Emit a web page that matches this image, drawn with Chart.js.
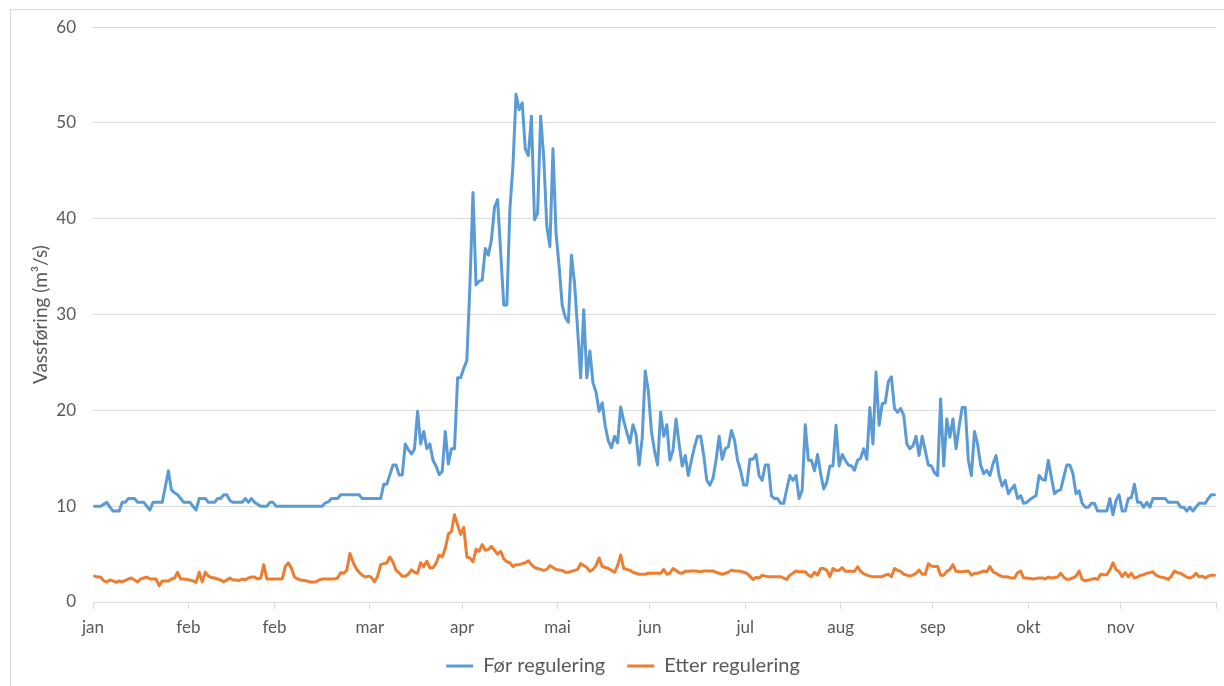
<!DOCTYPE html>
<html>
<head>
<meta charset="utf-8">
<script src="https://cdn.jsdelivr.net/npm/chart.js@4.4.1/dist/chart.umd.min.js"></script>
<style>
  html, body { margin: 0; padding: 0; background: #ffffff; }
  #wrap { position: relative; width: 1224px; height: 686px; overflow: hidden; }
  #frame { position: absolute; left: 10px; top: 9px; width: 1300px; height: 800px; border: 1px solid #d9d9d9; box-sizing: border-box; }
  canvas { position: absolute; left: 0; top: 0; }
</style>
</head>
<body>
<div id="wrap">
  <div id="frame"></div>
  <canvas id="c" width="1224" height="686"></canvas>
</div>
<script>
// Month boundaries (day of year) where the axis tick marks sit, and the labels printed there
const monthTickDays = [0, 31, 59, 90, 120, 151, 181, 212, 243, 273, 304, 334, 365];
const monthTickLabels = ['jan', 'feb', 'feb', 'mar', 'apr', 'mai', 'jun', 'jul', 'aug', 'sep', 'okt', 'nov', ''];

// Daily discharge (m3/s), 365 days
const forRegulering = [
  10.0, 10.0, 10.0, 10.2, 10.4, 9.9, 9.5, 9.5, 9.5, 10.4,
  10.4, 10.8, 10.8, 10.8, 10.4, 10.4, 10.4, 10.0, 9.6, 10.4,
  10.4, 10.4, 10.4, 12.0, 13.7, 11.7, 11.4, 11.2, 10.8, 10.4,
  10.4, 10.4, 10.0, 9.6, 10.8, 10.8, 10.8, 10.4, 10.4, 10.4,
  10.8, 10.8, 11.2, 11.2, 10.6, 10.4, 10.4, 10.4, 10.4, 10.8,
  10.4, 10.8, 10.4, 10.2, 10.0, 10.0, 10.0, 10.4, 10.4, 10.0,
  10.0, 10.0, 10.0, 10.0, 10.0, 10.0, 10.0, 10.0, 10.0, 10.0,
  10.0, 10.0, 10.0, 10.0, 10.0, 10.35, 10.45, 10.8, 10.8, 10.8,
  11.2, 11.2, 11.2, 11.2, 11.2, 11.2, 11.2, 10.8, 10.8, 10.8,
  10.8, 10.8, 10.8, 10.8, 12.3, 12.3, 13.3, 14.3, 14.3, 13.25,
  13.25, 16.5, 15.9, 15.45, 16.0, 19.9, 16.5, 17.8, 16.0, 16.5,
  14.8, 14.2, 13.3, 13.6, 17.8, 14.4, 16.0, 16.0, 23.4, 23.4,
  24.4, 25.2, 33.0, 42.75, 33.1, 33.5, 33.6, 36.9, 36.2, 37.8,
  41.2, 42.0, 36.5, 31.0, 31.0, 41.0, 45.6, 53.0, 51.4, 52.1,
  47.3, 46.6, 50.7, 39.9, 40.6, 50.7, 46.4, 39.2, 37.1, 47.3,
  38.5, 35.0, 31.0, 29.7, 29.2, 36.2, 33.3, 28.5, 23.4, 30.5,
  23.4, 26.2, 22.9, 21.9, 19.9, 20.8, 18.35, 16.8, 16.1, 17.3,
  16.6, 20.35, 18.9, 17.7, 16.6, 18.5, 17.5, 14.3, 17.1, 24.1,
  22.0, 17.8, 15.8, 14.3, 19.8, 17.3, 18.5, 14.8, 15.8, 19.1,
  16.5, 14.2, 15.3, 13.2, 14.8, 16.2, 17.3, 17.3, 15.3, 12.7,
  12.2, 12.9, 14.8, 17.3, 14.9, 16.0, 16.2, 17.9, 16.9, 14.8,
  13.7, 12.2, 12.2, 14.9, 14.9, 15.4, 13.2, 12.7, 14.3, 14.3,
  11.1, 10.8, 10.8, 10.3, 10.3, 11.8, 13.2, 12.7, 13.2, 10.8,
  11.7, 18.5, 14.8, 14.8, 13.7, 15.4, 13.4, 11.8, 12.5, 14.2,
  14.2, 18.45, 14.2, 15.4, 14.8, 14.3, 14.2, 13.75, 14.8, 15.0,
  16.0, 14.9, 20.3, 16.5, 24.0, 18.45, 20.7, 20.8, 23.0, 23.5,
  20.2, 19.8, 20.2, 19.5, 16.5, 16.0, 16.3, 17.3, 15.3, 17.3,
  15.8, 14.3, 14.2, 13.5, 13.2, 21.2, 14.2, 19.1, 17.2, 19.1,
  16.0, 18.3, 20.3, 20.3, 14.8, 13.2, 17.8, 16.5, 14.3, 13.4,
  13.75, 13.2, 14.4, 15.3, 13.2, 12.1, 12.7, 11.3, 11.8, 12.2,
  10.8, 11.1, 10.3, 10.4, 10.7, 10.9, 11.1, 13.2, 12.8, 12.7,
  14.8, 13.0, 11.3, 11.6, 11.7, 13.0, 14.3, 14.3, 13.4, 11.3,
  11.6, 10.3, 9.9, 9.9, 10.3, 10.3, 9.5, 9.5, 9.5, 9.5,
  10.8, 9.1, 10.6, 11.2, 9.5, 9.5, 10.8, 10.9, 12.3, 10.4,
  10.4, 9.9, 10.4, 9.9, 10.8, 10.8, 10.8, 10.8, 10.8, 10.4,
  10.4, 10.4, 10.4, 9.9, 9.9, 9.5, 9.9, 9.5, 9.9, 10.3,
  10.3, 10.3, 10.8, 11.2, 11.2
];

const etterRegulering = [
  2.7, 2.6, 2.6, 2.2, 2.1, 2.3, 2.2, 2.05, 2.2, 2.1,
  2.25, 2.4, 2.5, 2.3, 2.1, 2.4, 2.5, 2.6, 2.4, 2.4,
  2.4, 1.7, 2.2, 2.2, 2.2, 2.4, 2.5, 3.1, 2.4, 2.4,
  2.35, 2.3, 2.2, 2.05, 3.1, 2.1, 3.1, 2.7, 2.55, 2.5,
  2.4, 2.3, 2.1, 2.3, 2.5, 2.3, 2.3, 2.25, 2.4, 2.3,
  2.5, 2.6, 2.6, 2.4, 2.5, 3.9, 2.4, 2.4, 2.4, 2.4,
  2.4, 2.4, 3.7, 4.1, 3.5, 2.6, 2.4, 2.3, 2.25, 2.2,
  2.1, 2.1, 2.1, 2.3, 2.4, 2.4, 2.4, 2.4, 2.4, 2.5,
  3.06, 3.0, 3.33, 5.07, 4.2, 3.5, 3.1, 2.8, 2.6, 2.7,
  2.57, 2.1, 2.7, 3.9, 4.0, 4.1, 4.7, 4.15, 3.3, 3.05,
  2.7, 2.7, 2.9, 3.35, 3.1, 3.0, 4.1, 3.7, 4.25, 3.55,
  3.6, 4.05, 4.9, 4.7, 5.6, 7.1, 7.35, 9.1, 8.05, 7.05,
  7.8, 4.7, 4.6, 4.2, 5.5, 5.3, 6.0, 5.4, 5.5, 5.8,
  5.4, 5.0, 5.3, 4.5, 4.2, 4.1, 3.7, 3.9, 3.9, 4.0,
  4.1, 4.3, 3.9, 3.6, 3.5, 3.4, 3.3, 3.4, 3.8, 3.6,
  3.4, 3.35, 3.3, 3.1, 3.1, 3.2, 3.3, 3.4, 4.0, 3.8,
  3.6, 3.2, 3.4, 3.8, 4.6, 3.7, 3.6, 3.5, 3.3, 3.1,
  3.8, 4.9, 3.5, 3.4, 3.3, 3.1, 3.0, 2.9, 2.9, 2.9,
  3.0, 3.0, 3.0, 3.0, 3.0, 3.4, 2.9, 3.0, 3.5, 3.3,
  3.05, 3.0, 3.2, 3.2, 3.24, 3.24, 3.2, 3.15, 3.24, 3.24,
  3.24, 3.24, 3.1, 3.0, 2.9, 3.0, 3.1, 3.33, 3.24, 3.24,
  3.2, 3.1, 3.0, 2.7, 2.36, 2.57, 2.5, 2.8, 2.7, 2.64,
  2.64, 2.64, 2.64, 2.64, 2.5, 2.36, 2.8, 3.0, 3.24, 3.15,
  3.15, 3.15, 2.8, 2.64, 3.1, 2.8, 3.5, 3.5, 3.3, 2.64,
  3.5, 3.3, 3.3, 3.6, 3.2, 3.2, 3.2, 3.2, 3.68, 3.2,
  2.95, 2.8, 2.7, 2.64, 2.64, 2.64, 2.64, 2.8, 2.9, 2.64,
  3.5, 3.3, 3.2, 2.9, 2.8, 2.7, 2.8, 3.0, 3.33, 2.9,
  2.9, 4.0, 3.75, 3.7, 3.7, 2.8, 2.8, 3.2, 3.4, 3.9,
  3.2, 3.15, 3.15, 3.2, 3.24, 2.8, 3.0, 3.0, 3.1, 3.24,
  3.15, 3.7, 3.15, 3.0, 2.8, 2.64, 2.64, 2.6, 2.5, 2.5,
  3.05, 3.24, 2.5, 2.5, 2.45, 2.4, 2.45, 2.5, 2.5, 2.4,
  2.6, 2.5, 2.55, 2.6, 3.0, 2.6, 2.36, 2.4, 2.5, 2.7,
  3.23, 2.36, 2.2, 2.3, 2.36, 2.45, 2.36, 2.9, 2.85, 2.85,
  3.33, 4.1, 3.4, 3.16, 2.64, 3.06, 2.64, 3.0, 2.5, 2.6,
  2.8, 2.85, 3.0, 3.06, 3.16, 2.8, 2.64, 2.57, 2.5, 2.36,
  2.7, 3.23, 3.06, 3.0, 2.8, 2.6, 2.5, 2.64, 3.0, 2.64,
  2.7, 2.5, 2.7, 2.8, 2.8
];

const seriesNames = ['Før regulering', 'Etter regulering'];
const yTitle = 'Vassføring (m³/s)';

// each day is drawn in the middle of its one-day slot on the date axis
const toPoints = arr => arr.map((v, i) => ({ x: i + 0.5, y: v }));

const FONT = 'Lato, "Open Sans", "DejaVu Sans", sans-serif';
const TXT = '#595959';
const GRID = '#d9d9d9';
const LEGEND_PAD = 22;
const LEGEND_FONT = 20;
const LEGEND_H = LEGEND_FONT + LEGEND_PAD + 10;

new Chart(document.getElementById('c'), {
  type: 'line',
  data: {
    datasets: [
      {
        label: seriesNames[0],
        data: toPoints(forRegulering),
        borderColor: '#5b9bd5',
        backgroundColor: '#5b9bd5',
        borderWidth: 3,
        pointRadius: 0,
        tension: 0,
        borderJoinStyle: 'round',
        borderCapStyle: 'round'
      },
      {
        label: seriesNames[1],
        data: toPoints(etterRegulering),
        borderColor: '#ed7d31',
        backgroundColor: '#ed7d31',
        borderWidth: 3,
        pointRadius: 0,
        tension: 0,
        borderJoinStyle: 'round',
        borderCapStyle: 'round'
      }
    ]
  },
  options: {
    responsive: false,
    animation: false,
    devicePixelRatio: 1,
    layout: { padding: { left: 24, right: 2, top: 26, bottom: 0 } },
    plugins: {
      legend: {
        position: 'bottom',
        labels: {
          usePointStyle: true,
          pointStyle: 'line',
          pointStyleWidth: 27,
          padding: LEGEND_PAD,
          color: TXT,
          font: { family: FONT, size: LEGEND_FONT }
        }
      },
      tooltip: { enabled: false }
    },
    scales: {
      x: {
        type: 'linear',
        min: 0,
        max: 365,
        afterBuildTicks: axis => { axis.ticks = monthTickDays.map(d => ({ value: d })); },
        afterFit: axis => {
          axis.height = 686 - 602 - LEGEND_H;
          // let the month labels run below the (short) axis box instead of being clipped
          axis._computeLabelArea = () => undefined;
        },
        grid: { drawOnChartArea: false, drawTicks: true, tickLength: 7, color: GRID, lineWidth: 1 },
        border: { display: true, color: GRID, width: 1 },
        ticks: {
          autoSkip: false,
          maxRotation: 0,
          minRotation: 0,
          padding: 8,
          color: TXT,
          font: { family: FONT, size: 17 },
          callback: (value, index) => monthTickLabels[index]
        }
      },
      y: {
        min: 0,
        max: 60,
        afterFit: axis => { axis.width = 93 - 24; },
        ticks: { stepSize: 10, padding: 17, color: TXT, font: { family: FONT, size: 17 } },
        grid: { color: GRID, lineWidth: 1, drawTicks: false },
        border: { display: false },
        title: {
          display: true,
          text: yTitle,
          color: TXT,
          font: { family: FONT, size: 19 },
          padding: { top: 5, bottom: 0 }
        }
      }
    }
  }
});
</script>
</body>
</html>
